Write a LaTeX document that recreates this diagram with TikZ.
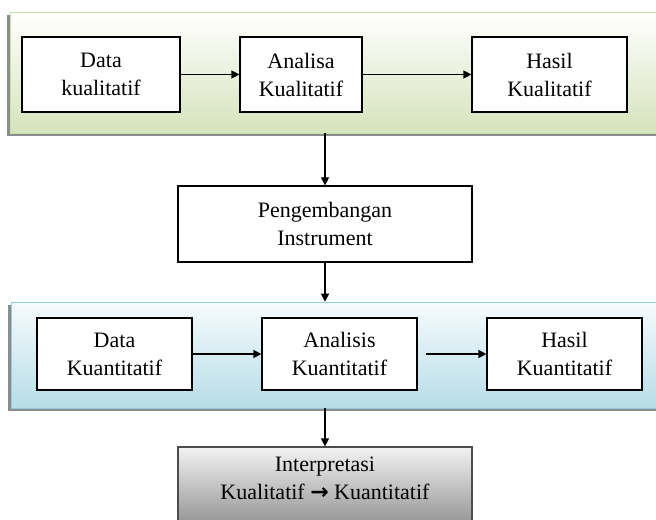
\documentclass[tikz,border=0pt]{standalone}
\usepackage{fontspec}
\setmainfont{Liberation Serif}
\newfontfamily\panahfont{DejaVu Sans}
\usetikzlibrary{arrows.meta,shadows}

\begin{document}
\begin{tikzpicture}[x=0.75pt,y=-0.75pt,
    kotak/.style={draw, line width=0.9pt, fill=white, align=center, inner sep=0pt,
        minimum width={#1*0.75pt}, font=\fontsize{16.5}{21}\selectfont},
    pita/.style={minimum width={660*0.75pt}, inner sep=0pt,
        drop shadow={shadow xshift=-2.2pt, shadow yshift=-2.2pt, fill=black!45, opacity=1}},
    panah/.style={-{Triangle[length=6pt,width=6pt]}, line width=0.9pt}]
    \useasboundingbox (0,0) rectangle (656,520);
    \clip (0,0) rectangle (656,520);

    % pita hijau (kualitatif)
    \node[pita, draw=green!40!olive!35, top color=white, bottom color={rgb,255:red,214;green,227;blue,188},
        minimum height={121*0.75pt}] (hijau) at (340,72.5) {};
    \node[kotak=158, minimum height={75*0.75pt}] (dataKual) at (101,74.5) {Data\\kualitatif};
    \node[kotak=122, minimum height={75*0.75pt}] (analKual) at (301,74.5) {Analisa\\Kualitatif};
    \node[kotak=155, minimum height={75*0.75pt}] (hasilKual) at (549.5,74.5) {Hasil\\Kualitatif};
    \draw[panah] (dataKual) -- (analKual);
    \draw[panah] (analKual) -- (hasilKual);

    % pengembangan instrument
    \node[kotak=294, minimum height={76*0.75pt}] (instrumen) at (325,224) {Pengembangan\\Instrument};
    \draw[panah] (instrumen.north |- hijau.south) -- (instrumen.north);

    % pita biru (kuantitatif)
    \node[pita, draw={rgb,255:red,147;green,205;blue,221}, top color={rgb,255:red,246;green,251;blue,252},
        bottom color={rgb,255:red,183;green,221;blue,232}, minimum height={106*0.75pt}] (biru) at (341,355) {};
    \node[kotak=155, minimum height={72*0.75pt}] (dataKuan) at (114.5,354) {Data\\Kuantitatif};
    \node[kotak=155, minimum height={72*0.75pt}] (analKuan) at (339.5,354) {Analisis\\Kuantitatif};
    \node[kotak=155, minimum height={72*0.75pt}] (hasilKuan) at (564.5,354) {Hasil\\Kuantitatif};
    \draw[panah] (instrumen.south) -- (instrumen.south |- biru.north);
    \draw[panah] (dataKuan) -- (analKuan);
    \draw[panah, shorten <=6pt] (analKuan) -- (hasilKuan);

    % interpretasi (bagian bawah terpotong)
    \node[kotak=294, minimum height={78*0.75pt}, text depth=11pt, draw=black!70, top color=black!5, bottom color=black!42]
        (interpretasi) at (325,486) {Interpretasi\\Kualitatif {\panahfont\bfseries →} Kuantitatif};
    \draw[panah] (interpretasi.north |- biru.south) -- (interpretasi.north);
\end{tikzpicture}
\end{document}
